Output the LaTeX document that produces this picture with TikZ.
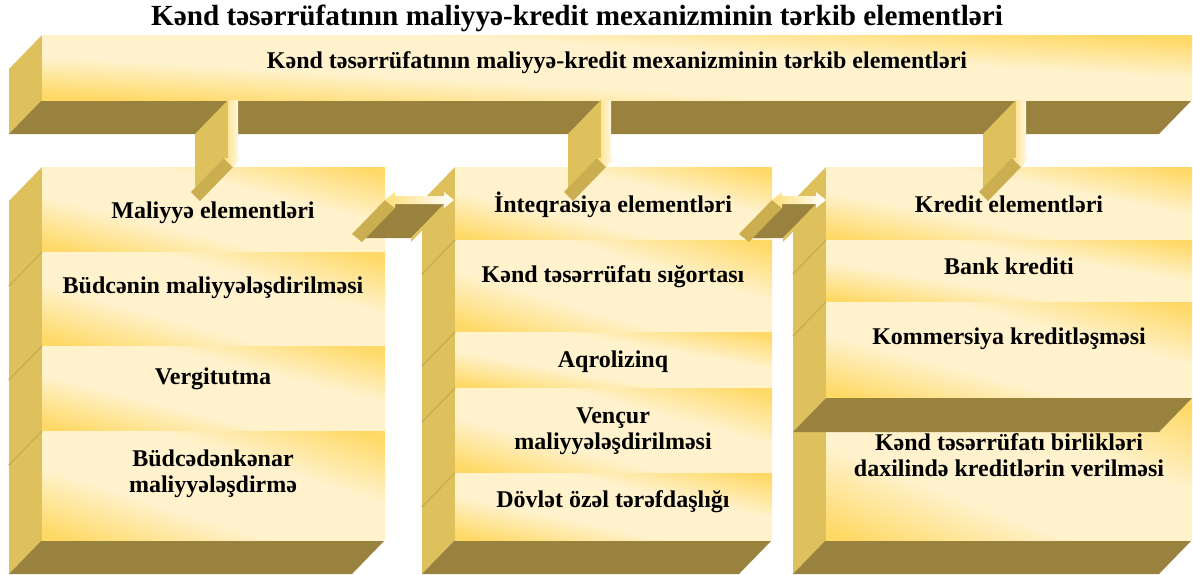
\documentclass[tikz,border=0pt]{standalone}
\usepackage{fontspec}
\setmainfont{Liberation Serif}

\definecolor{gold}{RGB}{255,217,102}
\definecolor{cream}{RGB}{255,242,204}
\definecolor{sidegold}{RGB}{222,192,92}
\definecolor{headgold}{RGB}{203,174,80}
\definecolor{floorgold}{RGB}{153,129,62}

\pgfdeclareverticalshading{rowshade}{100bp}{color(0bp)=(gold); color(17bp)=(gold);
	color(38bp)=(cream); color(62bp)=(cream); color(83bp)=(gold); color(100bp)=(gold)}

\newcommand{\facerect}[4]{%
	\shade[facebox, transform canvas={shift={(#1,#2)}, xscale=#3-#1, yscale=#4-#2}] (0,0) rectangle (1,1);}

\newcommand{\droparrow}[1]{%
	\begin{scope}[shift={#1}]
		\fill[sideface] (-5,100) -- (-5,158) -- ++(-33,34) -- (-38,134) -- cycle;
		\fill[headface] (-9,158) -- (0,167) -- ++(-33,34) -- (-42,192) -- cycle;
		\shade[shaftface] (-5,100) -- (-5,158) -- (-9,158) -- (0,167) -- (9,158) -- (5,158) -- (5,100) -- cycle;
	\end{scope}}

\newcommand{\linkarrow}[2]{%
	\fill[floorface] (#1+10,204) -- (#2-10,204) -- ++(-33,34) -- (#1-23,238) -- cycle;
	\fill[sideface] (#2-10,204) -- (#2-10,208) -- ++(-33,34) -- (#2-43,238) -- cycle;
	\fill[headface] (#1,200) -- (#1+10,208) -- ++(-33,34) -- (#1-33,234) -- cycle;
	\shade[shaftface] (#1,200) -- (#1+10,192) -- (#1+10,196) -- (#2-10,196) -- (#2-10,192) -- (#2,200)
		-- (#2-10,208) -- (#2-10,204) -- (#1+10,204) -- (#1+10,208) -- cycle;}

\begin{document}
\begin{tikzpicture}[x=0.5pt, y=-0.5pt,
	facebox/.style={shading=rowshade, shading angle=-45},
	sideface/.style={fill=sidegold},
	headface/.style={fill=headgold},
	floorface/.style={fill=floorgold},
	seamline/.style={draw=headgold, line width=0.4pt},
	shaftface/.style={left color=gold!80!cream, right color=white},
	txt/.style={font=\bfseries\fontsize{12}{13}\selectfont, align=center, anchor=base},
	heading/.style={font=\bfseries\fontsize{14.6}{16}\selectfont, anchor=base}]
	\useasboundingbox (0,0) rectangle (1193,574);

	% top bar
	\fill[sideface] (42,35) -- (42,100) -- ++(-33,34) -- (9,69) -- cycle;
	\fill[floorface] (42,100) -- (1192,100) -- ++(-33,34) -- (9,134) -- cycle;
	\facerect{42}{35}{1192}{100}

	% left column
	\fill[sideface] (42,167) -- (42,540) -- ++(-33,34) -- (9,201) -- cycle;
	\fill[floorface] (42,540) -- (385,540) -- ++(-33,34) -- (9,574) -- cycle;
	\foreach \ya/\yb in {167/252, 252/346, 346/431, 431/540}
		\facerect{42}{\ya}{385}{\yb}
	\foreach \y in {252, 346, 431}
		\draw[seamline] (42,\y) -- ++(-33,34);

	% middle column
	\fill[sideface] (455,167) -- (455,540) -- ++(-33,34) -- (422,201) -- cycle;
	\fill[floorface] (455,540) -- (772,540) -- ++(-33,34) -- (422,574) -- cycle;
	\foreach \ya/\yb in {167/240, 240/332, 332/388, 388/473, 473/540}
		\facerect{455}{\ya}{772}{\yb}
	\foreach \y in {240, 332, 388, 473}
		\draw[seamline] (455,\y) -- ++(-33,34);

	% right column
	\fill[sideface] (826,398) -- (826,540) -- ++(-33,34) -- (793,432) -- cycle;
	\fill[floorface] (826,540) -- (1192,540) -- ++(-33,34) -- (793,574) -- cycle;
	\facerect{826}{398}{1192}{540}
	\fill[sideface] (826,167) -- (826,398) -- ++(-33,34) -- (793,201) -- cycle;
	\foreach \ya/\yb in {167/240, 240/302, 302/398}
		\facerect{826}{\ya}{1192}{\yb}
	\foreach \y in {240, 302}
		\draw[seamline] (826,\y) -- ++(-33,34);
	\fill[floorface] (826,398) -- (1192,398) -- ++(-33,34) -- (793,432) -- cycle;

	% arrows
	\droparrow{(233,0)}
	\droparrow{(606,0)}
	\droparrow{(1021,0)}
	\linkarrow{385}{454}
	\linkarrow{772}{826}

	\node[heading] (title) at (577,25) {Kənd təsərrüfatının maliyyə-kredit mexanizminin tərkib elementləri};
	\node[txt] (mech) at (617,68) {Kənd təsərrüfatının maliyyə-kredit mexanizminin tərkib elementləri};

	\node[txt] (fin)    at (213,218) {Maliyyə elementləri};
	\node[txt] (budget) at (213,293) {Büdcənin maliyyələşdirilməsi};
	\node[txt] (tax)    at (213,384) {Vergitutma};
	\node[txt] (offbud) at (213,492) {Büdcədənkənar\\maliyyələşdirmə};

	\node[txt] (integ)  at (613,212) {İnteqrasiya elementləri};
	\node[txt] (insur)  at (613,282) {Kənd təsərrüfatı sığortası};
	\node[txt] (lease)  at (613,367) {Aqrolizinq};
	\node[txt] (vent)   at (613,449) {Vençur\\maliyyələşdirilməsi};
	\node[txt] (ppp)    at (613,507) {Dövlət özəl tərəfdaşlığı};

	\node[txt] (cred)   at (1009,212) {Kredit elementləri};
	\node[txt] (bank)   at (1009,274) {Bank krediti};
	\node[txt] (comm)   at (1009,344) {Kommersiya kreditləşməsi};
	\node[txt] (coop)   at (1009,476) {Kənd təsərrüfatı birlikləri\\daxilində kreditlərin verilməsi};
\end{tikzpicture}
\end{document}
